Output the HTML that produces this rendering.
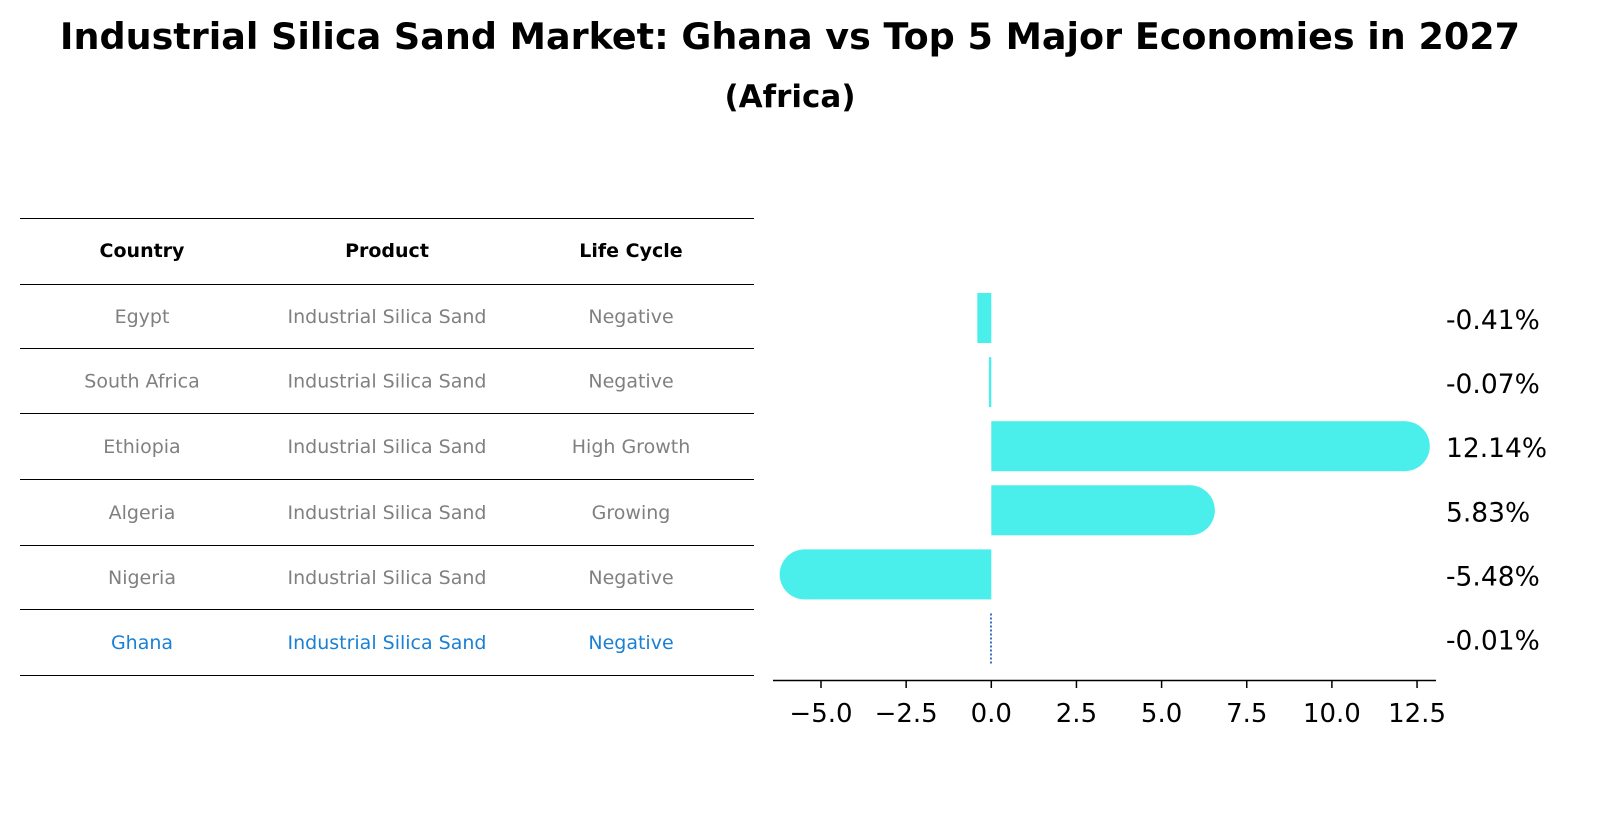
<!DOCTYPE html>
<html><head><meta charset="utf-8"><style>
body{margin:0;background:#fff;font-family:"Liberation Sans","DejaVu Sans",sans-serif;}
#wrap{position:relative;width:1604px;height:823px;overflow:hidden;}
</style></head><body>
<div id="wrap">
<svg id="svg" width="1604" height="823" xmlns="http://www.w3.org/2000/svg" font-family="DejaVu Sans, Liberation Sans, sans-serif">
<text x="790" y="49" text-anchor="middle" font-size="36.5" font-weight="bold">Industrial Silica Sand Market: Ghana vs Top 5 Major Economies in 2027</text>
<text x="790" y="107" text-anchor="middle" font-size="31" font-weight="bold">(Africa)</text>
<g id="table"></g>
<g id="bars"></g>
</svg>
</div>
<script>
const countries=["Egypt","South Africa","Ethiopia","Algeria","Nigeria","Ghana"];
const products=["Industrial Silica Sand","Industrial Silica Sand","Industrial Silica Sand","Industrial Silica Sand","Industrial Silica Sand","Industrial Silica Sand"];
const lifeCycles=["Negative","Negative","High Growth","Growing","Negative","Negative"];
const growth=[-0.41,-0.07,12.14,5.83,-5.48,-0.01];
const growthLabels=["-0.41%","-0.07%","12.14%","5.83%","-5.48%","-0.01%"];
const xTicks=[-5.0,-2.5,0.0,2.5,5.0,7.5,10.0,12.5];
const xTickLabels=["\u22125.0","\u22122.5","0.0","2.5","5.0","7.5","10.0","12.5"];
const NS="http://www.w3.org/2000/svg";
function mk(tag,attrs,parent,text){const e=document.createElementNS(NS,tag);for(const k in attrs)e.setAttribute(k,attrs[k]);if(text!==undefined)e.textContent=text;parent.appendChild(e);return e;}
const tg=document.getElementById('table');
const lineYs=[218,284,348,413,479,545,609,675];
lineYs.forEach((y,i)=>{const l=mk('line',{x1:20,x2:754,y1:y+0.5,y2:y+0.5,stroke:'#000','stroke-width':1},tg);

});
const colX=[142,387,631];
["Country","Product","Life Cycle"].forEach((h,i)=>{const t=mk('text',{x:colX[i],y:257,'text-anchor':'middle','font-size':19,'font-weight':'bold'},tg,h);

});
countries.forEach((c,r)=>{const y=(lineYs[r+1]+lineYs[r+2])/2+7;const col=r===countries.length-1?'#1a80d4':'#808080';
[c,products[r],lifeCycles[r]].forEach((v,i)=>{const t=mk('text',{x:colX[i],y:y,'text-anchor':'middle','font-size':19,fill:col},tg,v);

});});
const bg=document.getElementById('bars');
const x0=991.3,scale=34.06;
const X=v=>x0+v*scale;
const rowY=r=>318+r*64.1;
const bh=50;
growth.forEach((v,r)=>{const cy=rowY(r);
if(r===growth.length-1){const l=mk('line',{x1:X(v),x2:X(v),y1:cy-bh/2,y2:cy+bh/2,stroke:'#3a6fc4','stroke-width':2,'stroke-dasharray':'2,2'},bg);

}
else{const xa=Math.min(X(0),X(v)),w=Math.max(Math.abs(X(v)-X(0)),1.5);
const rc=mk('rect',{x:xa,y:cy-bh/2,width:w,height:bh,fill:'#4aeeea'},bg);


if(Math.abs(v)>1){const c=mk('circle',{cx:X(v),cy:cy,r:bh/2,fill:'#4aeeea'},bg);

}}
const t=mk('text',{x:1446,y:cy+11,'font-size':26.5},bg,growthLabels[r]);

});
const ax=mk('line',{x1:773,x2:1436,y1:680.5,y2:680.5,stroke:'#000','stroke-width':1.5},bg);


xTicks.forEach((v,i)=>{const tk=mk('line',{x1:X(v),x2:X(v),y1:680,y2:688,stroke:'#000','stroke-width':1.5},bg);


const t=mk('text',{x:X(v),y:722,'text-anchor':'middle','font-size':26},bg,xTickLabels[i]);

});
</script>
</body></html>
